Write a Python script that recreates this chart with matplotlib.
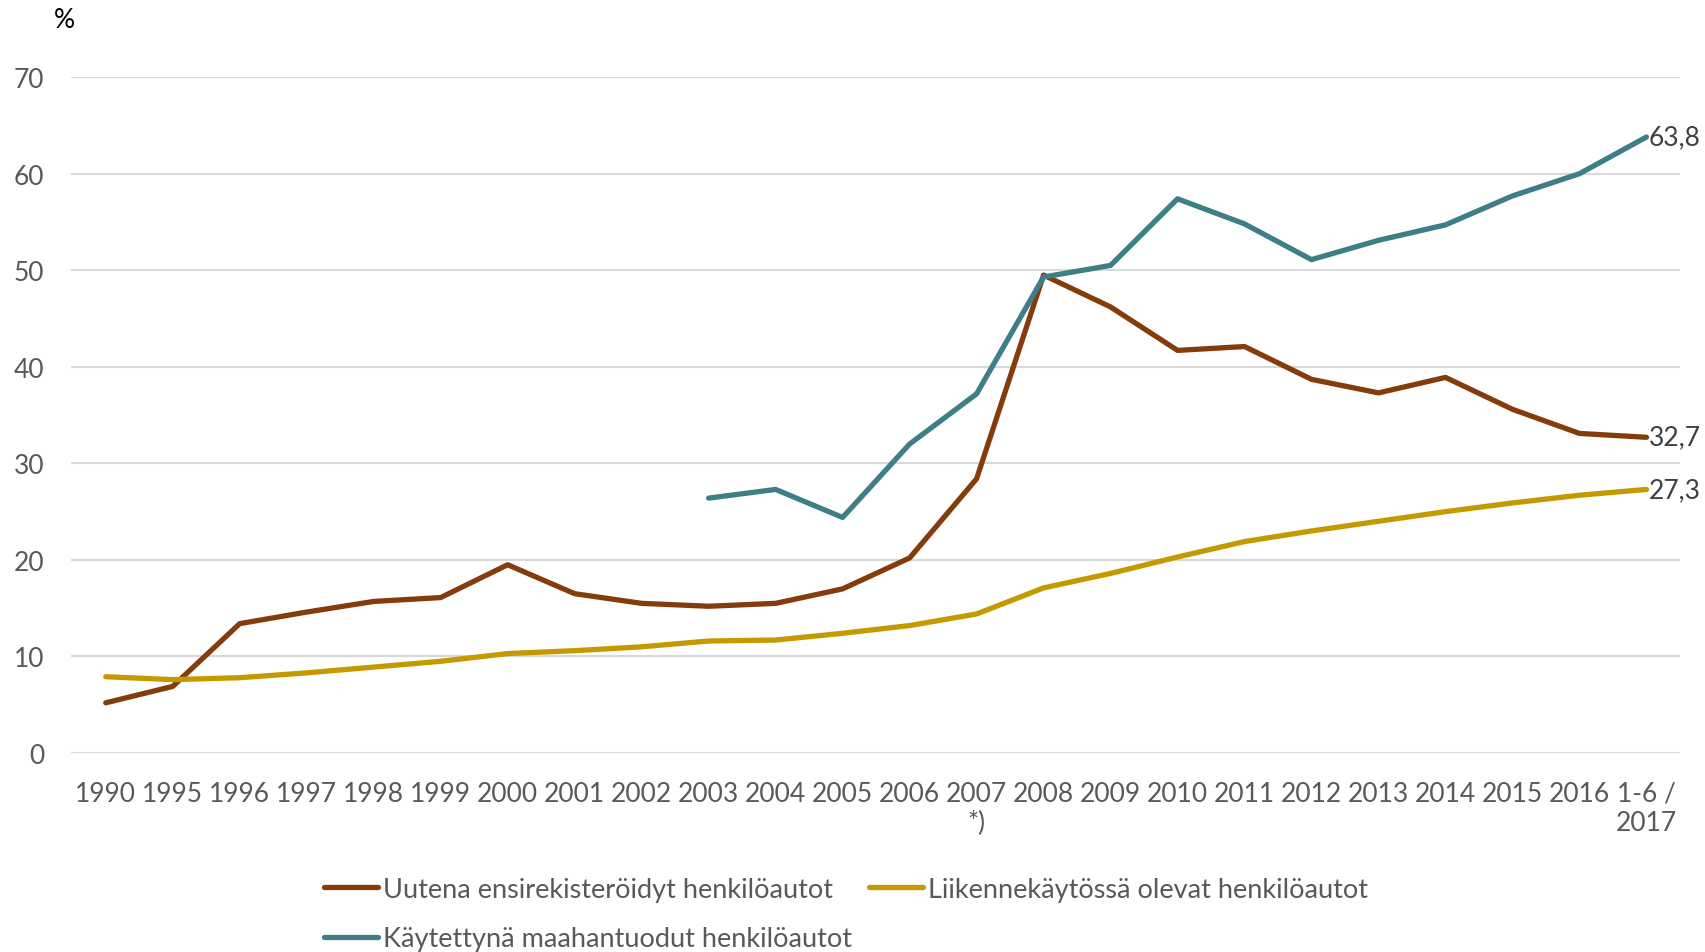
import matplotlib.pyplot as plt

plt.rcParams['font.family'] = ['Lato', 'DejaVu Sans']

years = ['1990', '1995', '1996', '1997', '1998', '1999', '2000', '2001', '2002',
         '2003', '2004', '2005', '2006', '2007\n*)', '2008', '2009', '2010', '2011',
         '2012', '2013', '2014', '2015', '2016', '1-6 /\n2017']

uutena = [5.2, 6.9, 13.4, 14.6, 15.7, 16.1, 19.5, 16.5, 15.5, 15.2, 15.5, 17.0,
          20.2, 28.4, 49.5, 46.2, 41.7, 42.1, 38.7, 37.3, 38.9, 35.6, 33.1, 32.7]
liikenne = [7.9, 7.6, 7.8, 8.3, 8.9, 9.5, 10.3, 10.6, 11.0, 11.6, 11.7, 12.4,
            13.2, 14.4, 17.1, 18.6, 20.3, 21.9, 23.0, 24.0, 25.0, 25.9, 26.7, 27.3]
# used imports only from 2003 onwards
kaytetty = [None] * 9 + [26.4, 27.3, 24.4, 32.0, 37.2, 49.3, 50.5, 57.4, 54.8,
                         51.1, 53.1, 54.7, 57.7, 60.0, 63.8]

c_brown = '#843C0C'
c_gold = '#C49A00'
c_teal = '#3E7E86'

fig = plt.figure(figsize=(17.05, 9.53), dpi=100)
ax = fig.add_axes([0.0416, 0.2088, 0.9437, 0.7092])

x = list(range(len(years)))
xk = [i for i, v in zip(x, kaytetty) if v is not None]
yk = [v for v in kaytetty if v is not None]

lw = 3.8
l1, = ax.plot(x, uutena, color=c_brown, linewidth=lw, solid_capstyle='round',
              label='Uutena ensirekisteröidyt henkilöautot', zorder=3)
l2, = ax.plot(x, liikenne, color=c_gold, linewidth=lw, solid_capstyle='round',
              label='Liikennekäytössä olevat henkilöautot', zorder=3)
l3, = ax.plot(xk, yk, color=c_teal, linewidth=lw, solid_capstyle='round',
              label='Käytettynä maahantuodut henkilöautot', zorder=3)

# end labels
for vals in (uutena, liikenne, yk):
    ax.text(x[-1] + 0.03, vals[-1], f'{vals[-1]:.1f}'.replace('.', ','),
            fontsize=19, color='#404040', va='center', ha='left')

ax.set_xlim(-0.52, 23.5)
ax.set_ylim(0, 70)
ax.set_yticks(range(0, 71, 10))
ax.set_xticks(x)
ax.set_xticklabels(years)
ax.tick_params(axis='both', length=0, labelsize=19, labelcolor='#595959')
ax.tick_params(axis='x', pad=20)
ax.tick_params(axis='y', pad=19)
ax.grid(axis='y', color='#D9D9D9', linewidth=1.5)
ax.set_axisbelow(True)
for s in ax.spines.values():
    s.set_visible(False)

fig.text(0.038, 0.979, '%', fontsize=19, color='black', ha='center', va='center')

fig.legend(handles=[l1, l3, l2], ncol=2, loc='center left',
           bbox_to_anchor=(0.182, 0.040), frameon=False, fontsize=19.5,
           handlelength=2.0, handletextpad=0.2, columnspacing=0.6,
           labelspacing=0.9, borderpad=0, labelcolor='#595959')

fig.savefig('out.png', dpi=100)
